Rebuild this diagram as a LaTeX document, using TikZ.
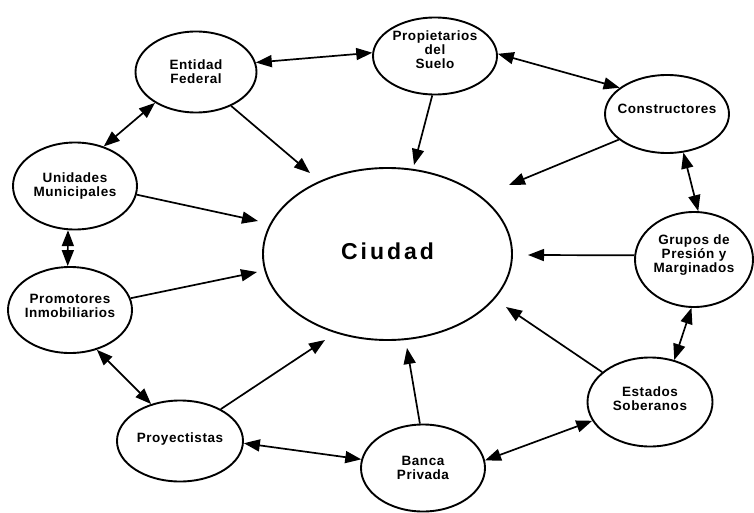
\documentclass[tikz,border=0pt]{standalone}
\usepackage{fontspec}
\setmainfont{Liberation Sans}
\newfontfamily\lblfont[LetterSpace=4]{Liberation Sans}
\newfontfamily\ciufont[LetterSpace=13]{Liberation Sans}
\newcommand\txtup[1]{\rule[-#1]{0pt}{0pt}}
\usetikzlibrary{shapes.geometric,arrows.meta}
\begin{document}
\begin{tikzpicture}[x=1pt,y=-1pt,
  bub/.style={draw, line width=1.9pt, ellipse, inner ysep=0pt, inner xsep=-25pt, align=center,
    font=\lblfont\fontsize{13.5}{14}\selectfont\bfseries},
  arr/.style={line width=1.7pt, -{Triangle[length=16pt,width=12pt]}},
  darr/.style={line width=1.7pt, {Triangle[length=16pt,width=12pt]}-{Triangle[length=16pt,width=12pt]}}]
\useasboundingbox (0,0) rectangle (754,513);

\node[bub, minimum width=249pt, minimum height=172pt, font=\ciufont\fontsize{23}{26}\selectfont\bfseries] (ciu) at (387.5,254) {Ciudad\txtup{6pt}};
\node[bub, minimum width=121pt, minimum height=81pt] (ent) at (196,72) {Entidad\\Federal};
\node[bub, minimum width=124pt, minimum height=77pt] (pro) at (435,56) {Propietarios\\del\\Suelo\txtup{12pt}};
\node[bub, minimum width=124pt, minimum height=78pt] (con) at (667,114) {Constructores\txtup{10pt}};
\node[bub, minimum width=124pt, minimum height=87pt] (uni) at (75,186) {Unidades\\Municipales};
\node[bub, minimum width=124pt, minimum height=86pt] (prm) at (70,310) {Promotores\\Inmobiliarios\txtup{8pt}};
\node[bub, minimum width=118pt, minimum height=95pt] (gru) at (694,259.5) {Grupos de\\Presión y\\Marginados\txtup{11pt}};
\node[bub, minimum width=125pt, minimum height=89pt] (est) at (650,402) {Estados\\Soberanos\txtup{6pt}};
\node[bub, minimum width=126pt, minimum height=81pt] (pry) at (180,441) {Proyectistas\txtup{6pt}};
\node[bub, minimum width=124pt, minimum height=87pt] (ban) at (423,468) {Banca\\Privada};

% arrow tips near Ciudad
\coordinate (t1) at (310,173);
\coordinate (t2) at (414,165);
\coordinate (t3) at (509,185);
\coordinate (t4) at (528,255);
\coordinate (t5) at (506,307);
\coordinate (t6) at (407,348);
\coordinate (t7) at (325,340);
\coordinate (t8) at (257,272);
\coordinate (t9) at (258,221);

\draw[arr] (ent.-44) -- (t1);
\draw[arr] (pro.-94) -- (t2);
\draw[arr] (con.-152) -- (t3);
\draw[arr] (gru.176) -- (t4);
\draw[arr] (est.148) -- (t5);
\draw[arr] (ban.94) -- (t6);
\draw[arr] (pry.38) -- (t7);
\draw[arr] (prm.11) -- (t8);
\draw[arr] (uni.-8) -- (t9);

% double arrows around the ring
\draw[darr] (ent.9) -- (pro.177);
\draw[darr] (pro.2) -- (con.151);
\draw[darr] (con.-67) -- (gru.85);
\draw[darr] (gru.-93) -- (est.60);
\draw[darr] (est.198) -- (ban.7);
\draw[darr] (pry.-2) -- (ban.172);
\draw[darr] (prm.-56) -- (pry.128);
\draw[darr] (uni.-99) -- (prm.93);
\draw[darr] (uni.54) -- (ent.-143);
\end{tikzpicture}
\end{document}
